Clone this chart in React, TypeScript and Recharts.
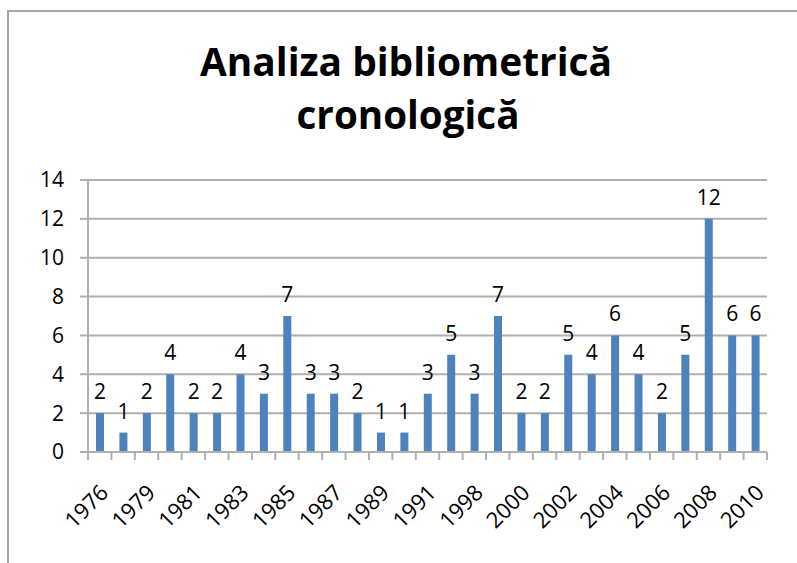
import React from 'react';
import {
  BarChart,
  Bar,
  XAxis,
  YAxis,
  CartesianGrid,
  LabelList
} from 'recharts';

const years = [
  '1976', '1978', '1979', '1980', '1981', '1982', '1983', '1984', '1985', '1986',
  '1987', '1988', '1989', '1990', '1991', '1997', '1998', '1999', '2000', '2001',
  '2002', '2003', '2004', '2005', '2006', '2007', '2008', '2009', '2010'
];
const counts = [2, 1, 2, 4, 2, 2, 4, 3, 7, 3, 3, 2, 1, 1, 3, 5, 3, 7, 2, 2, 5, 4, 6, 4, 2, 5, 12, 6, 6];
const yTicks = [0, 2, 4, 6, 8, 10, 12, 14];
const titleLines = ['Analiza bibliometrică', 'cronologică'];

const W = 797;
const H = 563;
const PLOT_LEFT = 88;
const PLOT_RIGHT = 767;
const PLOT_TOP = 180;
const AXIS_Y = 452;
const BAND = (PLOT_RIGHT - PLOT_LEFT) / years.length;
const FONT = '"Open Sans", Calibri, sans-serif';
const GRID = '#b0b0b0';

const chartData = years.map((year, i) => ({ year, value: counts[i] }));

const YearTick = (props: any) => {
  const { x, payload } = props;
  const idx = years.indexOf(payload.value);
  const left = x - BAND / 2;
  return (
    <g>
      <line x1={left} x2={left} y1={AXIS_Y} y2={AXIS_Y + 8} stroke={GRID} strokeWidth={2} />
      {idx === years.length - 1 && (
        <line x1={left + BAND} x2={left + BAND} y1={AXIS_Y} y2={AXIS_Y + 8} stroke={GRID} strokeWidth={2} />
      )}
      {idx % 2 === 0 && (
        <text
          transform={`translate(${x + 10}, ${AXIS_Y + 42}) rotate(-45)`}
          textAnchor="end"
          fontFamily={FONT}
          fontSize={22}
          fill="#000"
        >
          {payload.value}
        </text>
      )}
    </g>
  );
};

export default function App() {
  return (
    <div style={{ position: 'absolute', left: 0, top: 0, width: W, height: H, overflow: 'hidden', background: '#fff' }}>
      <div
        style={{
          position: 'absolute',
          left: 7,
          top: 10,
          width: 1000,
          height: 1000,
          borderLeft: '2px solid #a6a6a6',
          borderTop: '2px solid #a6a6a6'
        }}
      />
      <svg width={W} height={H} style={{ position: 'absolute', left: 0, top: 0 }}>
        <text x={406} y={76} textAnchor="middle" fontFamily={FONT} fontWeight={700} fontSize={40}
          textLength={412} lengthAdjust="spacingAndGlyphs" fill="#000">
          {titleLines[0]}
        </text>
        <text x={408} y={129} textAnchor="middle" fontFamily={FONT} fontWeight={700} fontSize={40}
          textLength={223} lengthAdjust="spacingAndGlyphs" fill="#000">
          {titleLines[1]}
        </text>
      </svg>
      <div style={{ position: 'absolute', left: 0, top: 0 }}>
        <BarChart
          width={W}
          height={H}
          data={chartData}
          margin={{ top: PLOT_TOP, right: W - PLOT_RIGHT, bottom: 0, left: 0 }}
          barSize={8}
        >
          <CartesianGrid vertical={false} stroke={GRID} strokeWidth={2} />
          <XAxis
            dataKey="year"
            interval={0}
            height={H - AXIS_Y}
            tickLine={false}
            axisLine={{ stroke: GRID, strokeWidth: 2 }}
            tick={<YearTick />}
          />
          <YAxis
            width={PLOT_LEFT}
            domain={[0, 14]}
            ticks={yTicks}
            tickSize={8}
            tickMargin={16}
            tickLine={{ stroke: GRID, strokeWidth: 2 }}
            axisLine={{ stroke: GRID, strokeWidth: 2 }}
            tick={{ fontFamily: FONT, fontSize: 21, fill: '#000' }}
          />
          <Bar dataKey="value" fill="#4f81bd" isAnimationActive={false}>
            <LabelList dataKey="value" position="top" offset={14} fontFamily={FONT} fontSize={21} fill="#000" />
          </Bar>
        </BarChart>
      </div>
    </div>
  );
}
